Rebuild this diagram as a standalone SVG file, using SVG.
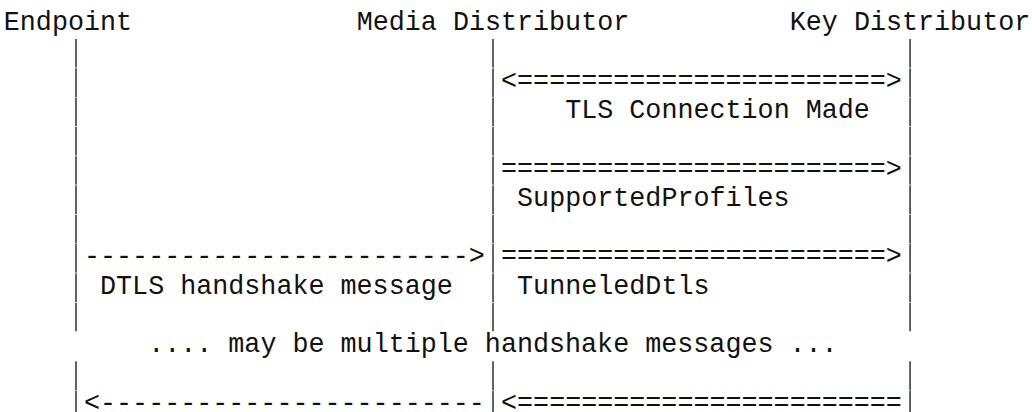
<svg xmlns="http://www.w3.org/2000/svg" width="1032" height="412" viewBox="0 0 1032 412">
<style>
text{font-family:"Liberation Mono","Courier New",monospace;font-size:26.73px;fill:#111;white-space:pre}
.life{stroke:#222;stroke-width:1.4;stroke-dasharray:28.6 0.7;fill:none}
</style>
<rect width="1032" height="412" fill="#fff"/>
<g id="endpoint">
<text x="3.8" y="30">Endpoint</text>
<path class="life" d="M75.98 39V331.3M75.98 361.3V420"/>
</g>
<g id="media-distributor">
<text x="356.68" y="30">Media Distributor</text>
<path class="life" d="M493.02 39V331.3M493.02 361.3V420"/>
</g>
<g id="key-distributor">
<text x="789.76" y="30">Key Distributor</text>
<path class="life" d="M910.06 39V331.3M910.06 361.3V420"/>
</g>
<g id="connectors">
<text x="501.04" y="88.6">&lt;=======================&gt;</text>
<text x="565.2" y="117.9">TLS Connection Made</text>
<text x="501.04" y="176.5">========================&gt;</text>
<text x="517.08" y="205.8">SupportedProfiles</text>
<text x="84" y="264.4">------------------------&gt;</text>
<text x="501.04" y="264.4">========================&gt;</text>
<text x="100.04" y="293.7">DTLS handshake message</text>
<text x="517.08" y="293.7">TunneledDtls</text>
<text x="148.16" y="352.3">.... may be multiple handshake messages ...</text>
<text x="84" y="410.9">&lt;------------------------</text>
<text x="501.04" y="410.9">&lt;========================</text>
</g>
</svg>
